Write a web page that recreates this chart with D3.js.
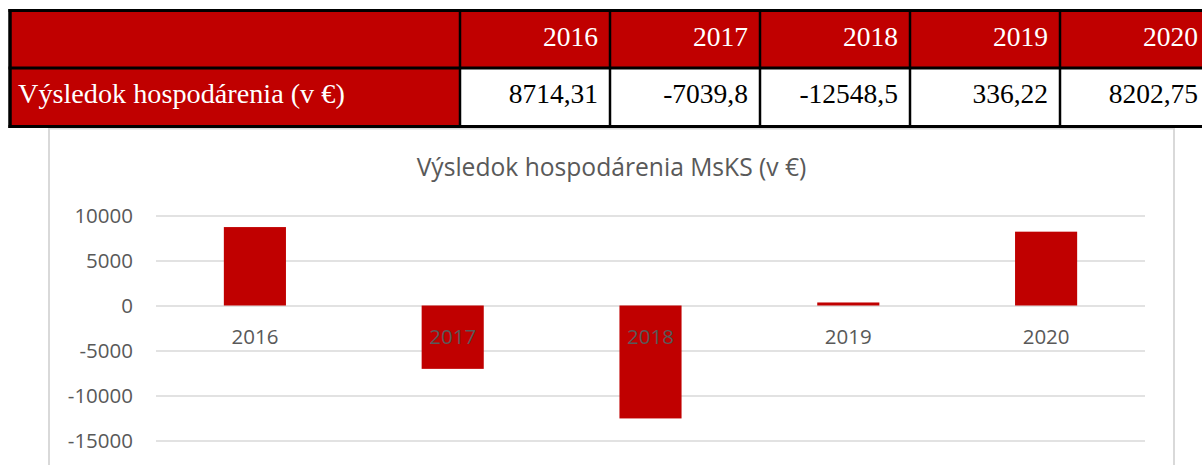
<!DOCTYPE html>
<html>
<head>
<meta charset="utf-8">
<script src="https://cdn.jsdelivr.net/npm/d3@7"></script>
<style>
  html, body { margin: 0; padding: 0; background: #fff; }
  svg { display: block; }
</style>
</head>
<body>
<svg id="chart" width="1202" height="465"></svg>
<script>
// ---- data ----
const years = ["2016", "2017", "2018", "2019", "2020"];
const values = [8714.31, -7039.8, -12548.5, 336.22, 8202.75];
const rowLabel = "Výsledok hospodárenia (v €)";
const chartTitle = "Výsledok hospodárenia MsKS (v €)";
const yTicks = [10000, 5000, 0, -5000, -10000, -15000];

// ---- setup ----
const W = 1202, H = 465;
const svg = d3.select("#chart");
svg.append("rect").attr("width", W).attr("height", H).attr("fill", "#fff");

const RED = "#c00000";
const GREY_TEXT = "#595959";
const GRID = "#d9d9d9";

function fitFont(sel, target) {
  const fs = parseFloat(sel.style("font-size"));
  const w = sel.node().getComputedTextLength();
  if (w > 0) sel.style("font-size", (fs * target / w) + "px");
}

// ---- chart box ----
const chartG = svg.append("g");
chartG.append("rect")
  .attr("x", 49).attr("y", 128.5)
  .attr("width", 1125).attr("height", 360)
  .attr("fill", "#fff").attr("stroke", GRID).attr("stroke-width", 2);

const x = d3.scaleBand().domain(years).range([156, 1145])
  .paddingInner(0.686).paddingOuter(0.343);
const y = d3.scaleLinear().domain([-15000, 10000]).range([440.5, 215.5]);

// title
const title = chartG.append("text")
  .attr("x", 611.5).attr("y", 176)
  .attr("text-anchor", "middle")
  .style("font-family", "'Open Sans', sans-serif")
  .style("font-size", "23px")
  .attr("fill", GREY_TEXT)
  .text(chartTitle);
fitFont(title, 390);

// y axis with gridlines
const yAxis = chartG.append("g")
  .attr("transform", "translate(156,0)")
  .call(d3.axisLeft(y).tickValues(yTicks).tickSize(-(1145 - 156)).tickPadding(23).tickFormat(d => String(d)));
yAxis.select(".domain").remove();
yAxis.selectAll(".tick line").attr("stroke", GRID).attr("stroke-width", 1.6);
yAxis.selectAll(".tick text")
  .attr("fill", GREY_TEXT)
  .style("font-family", "'Open Sans', sans-serif")
  .style("font-size", "20.5px")
  .attr("dy", "0.36em");

// bars
chartG.append("g").selectAll("rect")
  .data(values)
  .join("rect")
  .attr("x", (d, i) => x(years[i]))
  .attr("width", x.bandwidth())
  .attr("y", d => y(Math.max(0, d)))
  .attr("height", d => Math.abs(y(d) - y(0)))
  .attr("fill", RED);

// x axis labels (drawn above bars)
const xAxis = chartG.append("g")
  .attr("transform", `translate(0,${y(0)})`)
  .call(d3.axisBottom(x).tickSize(0).tickPadding(23.5));
xAxis.select(".domain").remove();
xAxis.selectAll(".tick text")
  .attr("fill", GREY_TEXT)
  .style("font-family", "'Open Sans', sans-serif")
  .style("font-size", "20.5px");

// ---- table ----
const colEdges = [10, 460, 610, 760, 910, 1060, 1210];
const rowEdges = [10.5, 68, 126.5];
const tableG = svg.append("g");
const serif = "'Liberation Serif', 'Times New Roman', serif";

// header row background
tableG.append("rect")
  .attr("x", colEdges[0]).attr("y", rowEdges[0])
  .attr("width", colEdges[6] - colEdges[0]).attr("height", rowEdges[1] - rowEdges[0])
  .attr("fill", RED);
// row 2: label cell red, values white
tableG.append("rect")
  .attr("x", colEdges[0]).attr("y", rowEdges[1])
  .attr("width", colEdges[1] - colEdges[0]).attr("height", rowEdges[2] - rowEdges[1])
  .attr("fill", RED);
tableG.append("rect")
  .attr("x", colEdges[1]).attr("y", rowEdges[1])
  .attr("width", colEdges[6] - colEdges[1]).attr("height", rowEdges[2] - rowEdges[1])
  .attr("fill", "#fff");

// borders
const lines = tableG.append("g").attr("stroke", "#000");
rowEdges.forEach((ry) => {
  lines.append("line").attr("x1", colEdges[0] - 1.5).attr("x2", colEdges[6])
    .attr("y1", ry).attr("y2", ry).attr("stroke-width", 3);
});
colEdges.slice(0, 6).forEach((cx, i) => {
  lines.append("line").attr("x1", cx).attr("x2", cx)
    .attr("y1", rowEdges[0] - 1.5).attr("y2", rowEdges[2] + 1.5)
    .attr("stroke-width", i === 0 ? 3.5 : 2.5);
});

// header texts
tableG.append("g").selectAll("text")
  .data(years)
  .join("text")
  .attr("x", (d, i) => colEdges[i + 2] - 12)
  .attr("y", 46)
  .attr("text-anchor", "end")
  .attr("fill", "#fff")
  .style("font-family", serif)
  .style("font-size", "27.5px")
  .text(d => d);

// values row
tableG.append("g").selectAll("text")
  .data(values)
  .join("text")
  .attr("x", (d, i) => colEdges[i + 2] - 12)
  .attr("y", 103)
  .attr("text-anchor", "end")
  .attr("fill", "#000")
  .style("font-family", serif)
  .style("font-size", "27.5px")
  .text(d => String(d).replace(".", ","));

const lbl = tableG.append("text")
  .attr("x", 18).attr("y", 103)
  .attr("fill", "#fff")
  .style("font-family", serif)
  .style("font-size", "27.5px")
  .text(rowLabel);
fitFont(lbl, 327);
</script>
</body>
</html>
